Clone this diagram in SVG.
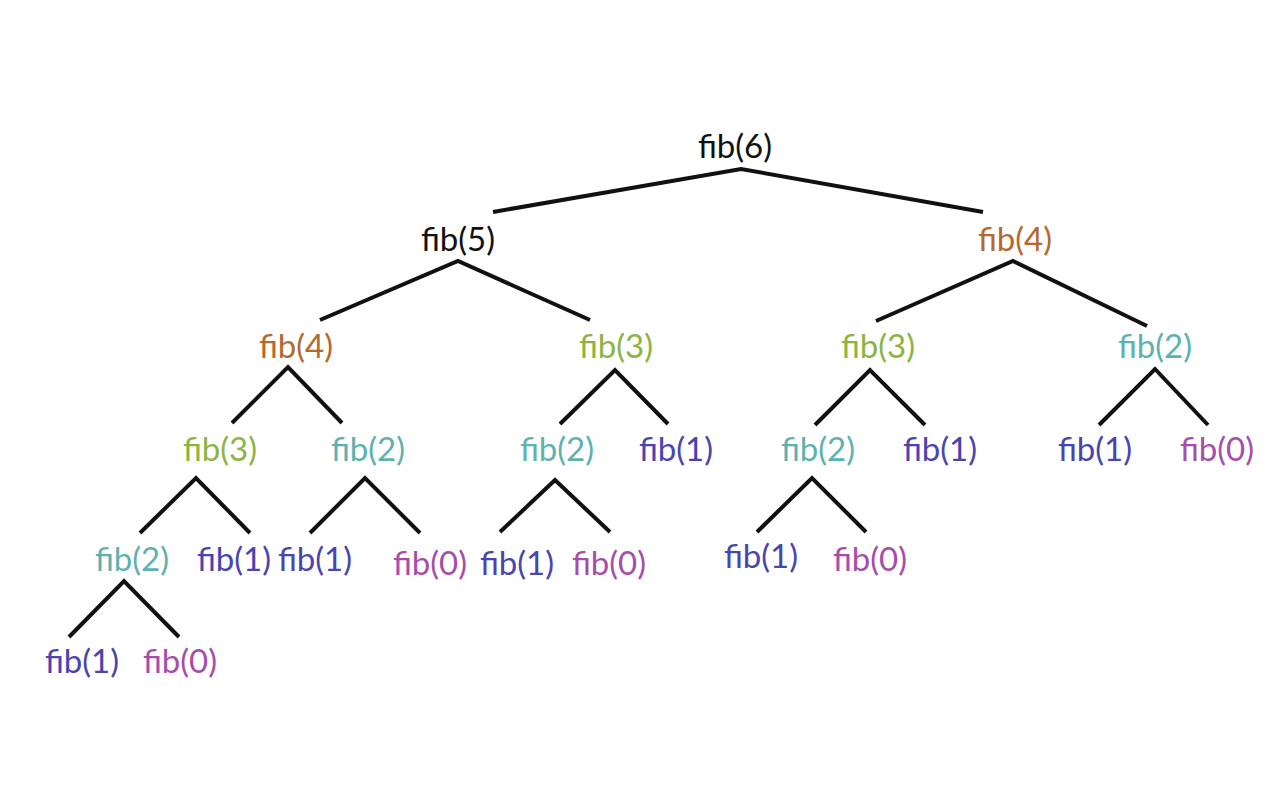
<svg xmlns="http://www.w3.org/2000/svg" width="1280" height="800" viewBox="0 0 1280 800">
<style>
text{font-family:Lato,"Open Sans","Liberation Sans",sans-serif;font-size:33px;text-anchor:middle}
.k{fill:#111}.n4{fill:#b5692e}.n3{fill:#8cb443}.n2{fill:#5fb1b0}.n1{fill:#4a44b0}.n0{fill:#a64dac}
#edges path{stroke:#111;stroke-width:4;fill:none;stroke-linejoin:miter}
</style>
<rect width="1280" height="800" fill="#fff"/>
<g id="edges">
<path d="M493,212 L741,169 L983,212"/>
<path d="M320,320 L458,261 L590,320"/>
<path d="M876,321 L1013,261 L1147,326"/>
<path d="M232,423 L288,367 L342,423"/>
<path d="M560,424 L615,370 L668,424"/>
<path d="M815,425 L870,370 L925,425"/>
<path d="M1099,425 L1155,369 L1208,425"/>
<path d="M140,533 L196,478 L250,533"/>
<path d="M310,533 L365,478 L420,533"/>
<path d="M500,532 L555,480 L610,532"/>
<path d="M757,532 L812,478 L866,532"/>
<path d="M69,637 L124,581 L179,637"/>
</g>
<g id="n6"><text class="k" x="735" y="158">fib(6)</text></g>
<g id="n5"><text class="k" x="458" y="251">fib(5)</text></g>
<g id="n4r"><text class="n4" x="1015" y="251">fib(4)</text></g>
<g id="n4l"><text class="n4" x="296" y="358">fib(4)</text></g>
<g id="n3a"><text class="n3" x="616" y="358">fib(3)</text></g>
<g id="n3b"><text class="n3" x="878" y="358">fib(3)</text></g>
<g id="n2a"><text class="n2" x="1155" y="358">fib(2)</text></g>
<g id="n3c"><text class="n3" x="220" y="461">fib(3)</text></g>
<g id="n2b"><text class="n2" x="368" y="461">fib(2)</text></g>
<g id="n2c"><text class="n2" x="557" y="461">fib(2)</text></g>
<g id="n1a"><text class="n1" x="676" y="461">fib(1)</text></g>
<g id="n2d"><text class="n2" x="818" y="461">fib(2)</text></g>
<g id="n1b"><text class="n1" x="940" y="461">fib(1)</text></g>
<g id="n1c"><text class="n1" x="1095" y="461">fib(1)</text></g>
<g id="n0a"><text class="n0" x="1217" y="461">fib(0)</text></g>
<g id="n2e"><text class="n2" x="132" y="571">fib(2)</text></g>
<g id="n1d"><text class="n1" x="234" y="571">fib(1)</text></g>
<g id="n1e"><text class="n1" x="315" y="571">fib(1)</text></g>
<g id="n0b"><text class="n0" x="430" y="575">fib(0)</text></g>
<g id="n1f"><text class="n1" x="517" y="575">fib(1)</text></g>
<g id="n0c"><text class="n0" x="609" y="575">fib(0)</text></g>
<g id="n1g"><text class="n1" x="761" y="568">fib(1)</text></g>
<g id="n0d"><text class="n0" x="870" y="571">fib(0)</text></g>
<g id="n1h"><text class="n1" x="82" y="673">fib(1)</text></g>
<g id="n0e"><text class="n0" x="180" y="673">fib(0)</text></g>
</svg>
